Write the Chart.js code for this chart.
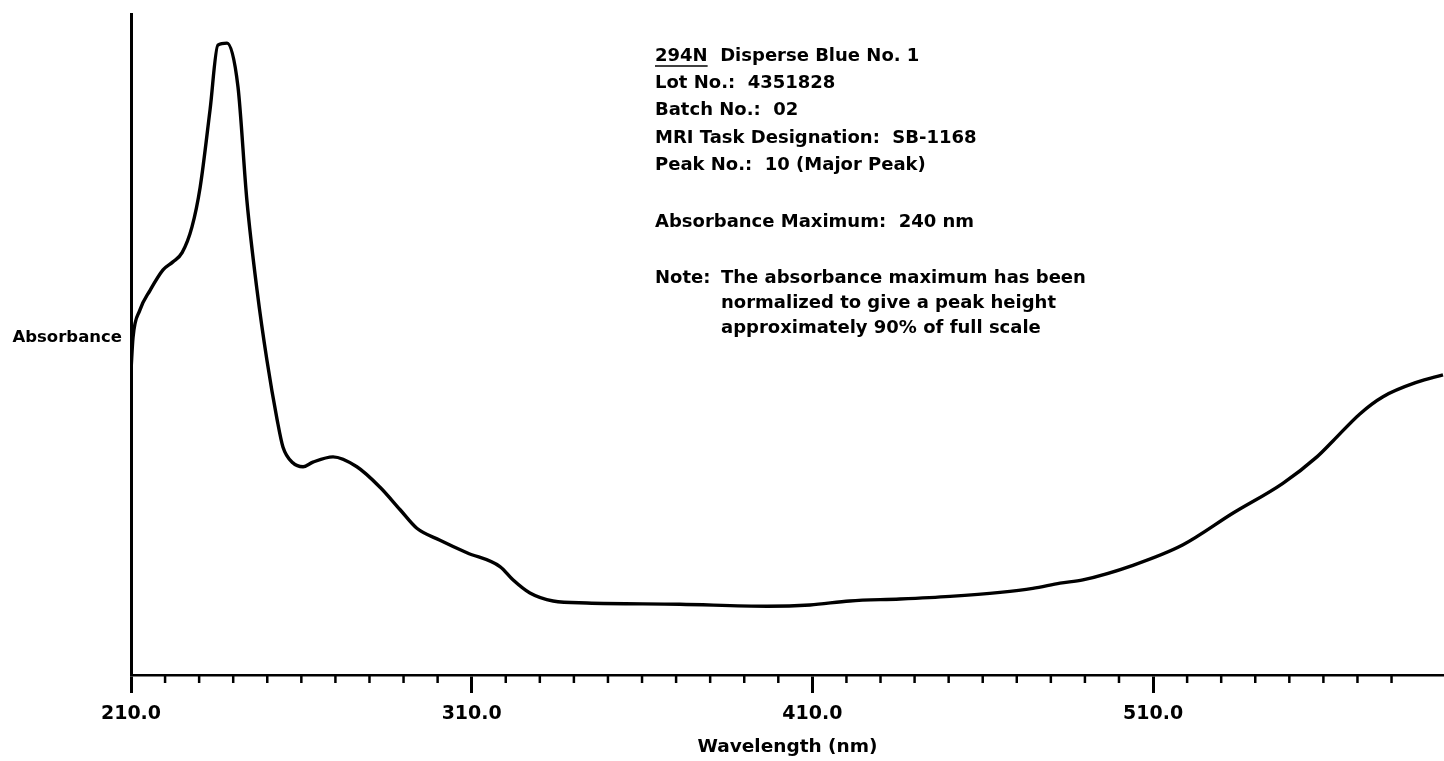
<!DOCTYPE html>
<html>
<head>
<meta charset="utf-8">
<script src="https://cdn.jsdelivr.net/npm/chart.js@4.4.1/dist/chart.umd.min.js"></script>
<style>
  html, body { margin: 0; padding: 0; background: #fff; }
</style>
</head>
<body>
<canvas id="spectrum" width="1444" height="761"></canvas>
<script>
// ─── Data ─────────────────────────────────────────────────────
const wavelengths = [
  210.0, 210.6, 212.6, 215.6, 219.4, 222.3, 225.0, 227.9, 230.3, 233.2,
  235.5, 238.2, 241.4, 244.0, 247.0, 249.9, 252.9, 254.6, 257.5, 260.5,
  263.4, 269.3, 276.3, 283.1, 289.0, 293.9, 300.7, 308.6, 318.3, 322.1,
  327.1, 333.9, 343.8, 371.1, 396.7, 409.3, 421.0, 435.7, 450.4, 465.1,
  474.7, 482.7, 489.4, 504.1, 518.8, 533.5, 548.1, 558.1, 562.8, 570.7,
  577.5, 587.5, 595.1
];
const absorbance = [
  0.461, 0.511, 0.552, 0.582, 0.613, 0.625, 0.639, 0.678, 0.738, 0.855,
  0.953, 0.956, 0.890, 0.719, 0.582, 0.476, 0.386, 0.345, 0.321, 0.315,
  0.322, 0.330, 0.315, 0.284, 0.250, 0.222, 0.204, 0.185, 0.164, 0.144,
  0.124, 0.112, 0.109, 0.107, 0.104, 0.106, 0.112, 0.115, 0.119, 0.125,
  0.131, 0.139, 0.144, 0.166, 0.197, 0.245, 0.290, 0.330, 0.354, 0.395,
  0.421, 0.443, 0.454
];
const majorTicks = [210, 310, 410, 510];
const infoLines  = [
  '294N  Disperse Blue No. 1',
  'Lot No.:  4351828',
  'Batch No.:  02',
  'MRI Task Designation:  SB-1168',
  'Peak No.:  10 (Major Peak)',
];
const maxLine   = 'Absorbance Maximum:  240 nm';
const noteLines = [
  'The absorbance maximum has been',
  'normalized to give a peak height',
  'approximately 90% of full scale',
];

const FONT = '"DejaVu Sans", Verdana, sans-serif';

// ── Extra marks: minor ticks, side label, notes ───────────────
const annotate = {
  id: 'annotate',
  afterDraw(chart) {
    const { ctx, chartArea, scales } = chart;
    const x = scales.x;
    ctx.save();
    ctx.strokeStyle = '#000';
    ctx.fillStyle   = '#000';

    // short ticks every 10 nm
    ctx.lineWidth = 2.5;
    x.ticks.forEach(t => {
      if (majorTicks.includes(t.value)) return;
      const px = x.getPixelForValue(t.value);
      ctx.beginPath();
      ctx.moveTo(px, chartArea.bottom);
      ctx.lineTo(px, chartArea.bottom + 8);
      ctx.stroke();
    });

    // horizontal y label
    ctx.font = 'bold 16.5px ' + FONT;
    ctx.textAlign = 'right';
    ctx.textBaseline = 'middle';
    ctx.fillText('Absorbance', chartArea.left - 9, 338);

    // sample info block
    ctx.font = 'bold 18px ' + FONT;
    ctx.textAlign = 'left';
    const tx = 655;
    infoLines.forEach((s, i) => ctx.fillText(s, tx, 56 + i * 27.3));
    const uw = ctx.measureText('294N').width;
    ctx.lineWidth = 1.5;
    ctx.beginPath();
    ctx.moveTo(tx, 66);
    ctx.lineTo(tx + uw, 66);
    ctx.stroke();

    ctx.fillText(maxLine, tx, 222);
    ctx.fillText('Note:', tx, 278);
    noteLines.forEach((s, i) => ctx.fillText(s, 721, 278 + i * 25));
    ctx.restore();
  }
};

new Chart(document.getElementById('spectrum'), {
  type: 'line',
  data: {
    datasets: [{
      data: wavelengths.map((w, i) => ({ x: w, y: absorbance[i] })),
      borderColor: '#000',
      borderWidth: 3.4,
      pointRadius: 0,
      fill: false,
      cubicInterpolationMode: 'monotone',
    }],
  },
  options: {
    responsive: false,
    animation: false,
    layout: { padding: { top: 14, right: 0, left: 0, bottom: 0 } },
    plugins: { legend: { display: false }, tooltip: { enabled: false } },
    scales: {
      x: {
        type: 'linear',
        min: 210,
        max: 595.4,
        afterFit: s => { s.height = 86; },
        afterBuildTicks: s => { s.ticks = s.ticks.filter(t => Math.abs(t.value % 10) < 1e-6); },
        border: { display: true, color: '#000', width: 2.5 },
        grid: {
          drawOnChartArea: false,
          drawTicks: true,
          tickLength: 18,
          tickWidth: 3,
          tickColor: ctx => majorTicks.includes(ctx.tick && ctx.tick.value) ? '#000' : 'rgba(0,0,0,0)',
        },
        ticks: {
          stepSize: 10,
          autoSkip: false,
          maxRotation: 0,
          padding: 10,
          color: '#000',
          font: { family: FONT, size: 19, weight: 'bold' },
          callback: v => majorTicks.includes(v) ? v.toFixed(1) : '',
        },
        title: {
          display: true,
          text: 'Wavelength (nm)',
          color: '#000',
          font: { family: FONT, size: 18.5, weight: 'bold' },
          padding: { top: 0, bottom: 3 },
        },
      },
      y: {
        min: 0,
        max: 1,
        afterFit: s => { s.width = 131; },
        border: { display: true, color: '#000', width: 3 },
        grid: { display: false },
        ticks: { display: false },
      },
    },
  },
  plugins: [annotate],
});
</script>
</body>
</html>
